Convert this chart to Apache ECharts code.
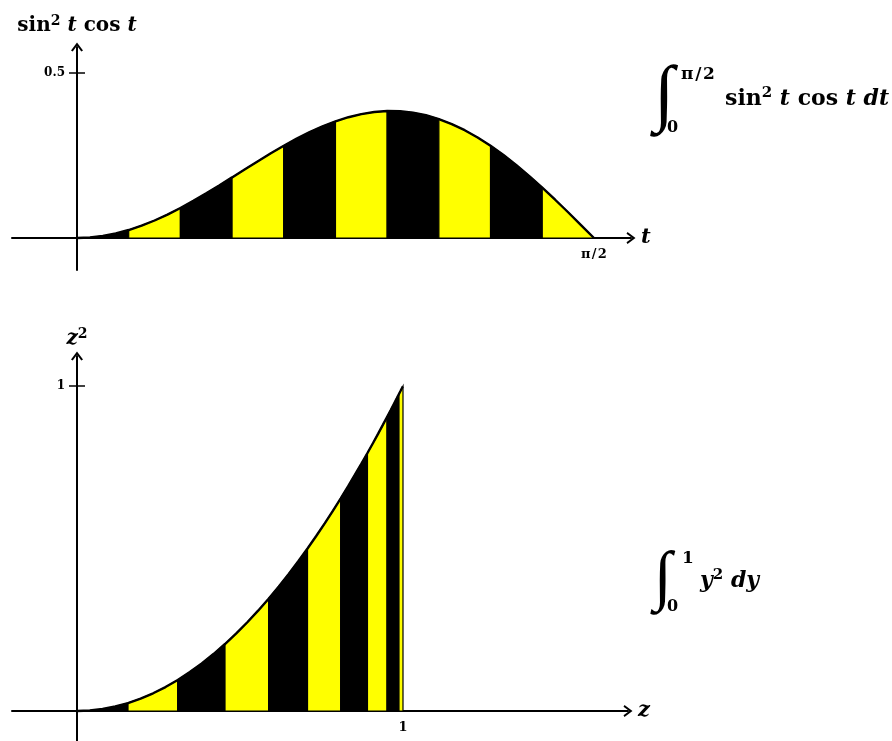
<!DOCTYPE html>
<html>
<head>
<meta charset="utf-8">
<script src="https://cdn.jsdelivr.net/npm/echarts@6/dist/echarts.min.js"></script>
<style>
  html, body { margin: 0; padding: 0; background: #ffffff; }
  #chart { width: 892px; height: 741px; }
</style>
</head>
<body>
<div id="chart"></div>
<script>
// Upper panel: f(t) = sin^2 t cos t sampled on [0, pi/2]
const tSamples = [
  0, 0.0393, 0.0785, 0.1178, 0.1571, 0.1963, 0.2356, 0.2749, 0.3142, 0.3534,
  0.3927, 0.4320, 0.4712, 0.5105, 0.5498, 0.5890, 0.6283, 0.6676, 0.7069, 0.7461,
  0.7854, 0.8247, 0.8639, 0.9032, 0.9425, 0.9817, 1.0210, 1.0603, 1.0996, 1.1388,
  1.1781, 1.2174, 1.2566, 1.2959, 1.3352, 1.3744, 1.4137, 1.4530, 1.4923, 1.5315,
  1.5708
];
const sinSqCos = [
  0, 0.00154, 0.00614, 0.01372, 0.02417, 0.03733, 0.05299, 0.07091, 0.09082, 0.11239,
  0.13530, 0.15918, 0.18365, 0.20831, 0.23277, 0.25664, 0.27951, 0.30099, 0.32073, 0.33835,
  0.35355, 0.36603, 0.37553, 0.38181, 0.38471, 0.38409, 0.37986, 0.37197, 0.36042, 0.34528,
  0.32664, 0.30466, 0.27951, 0.25144, 0.22073, 0.18766, 0.15260, 0.11592, 0.07798, 0.03920,
  0
];
// Lower panel: g(z) = z^2 sampled on [0, 1]
const zSamples = [
  0, 0.03926, 0.07846, 0.11754, 0.15643, 0.19509, 0.23345, 0.27144, 0.30902, 0.34612,
  0.38268, 0.41866, 0.45399, 0.48862, 0.52250, 0.55557, 0.58779, 0.61909, 0.64945, 0.67880,
  0.70711, 0.73432, 0.76041, 0.78532, 0.80902, 0.83147, 0.85264, 0.87250, 0.89101, 0.90814,
  0.92388, 0.93819, 0.95106, 0.96246, 0.97237, 0.98079, 0.98769, 0.99307, 0.99692, 0.99923,
  1
];
const zSquared = [
  0, 0.00154, 0.00616, 0.01382, 0.02447, 0.03806, 0.05450, 0.07368, 0.09549, 0.11980,
  0.14645, 0.17528, 0.20611, 0.23875, 0.27300, 0.30866, 0.34549, 0.38327, 0.42178, 0.46077,
  0.5, 0.53923, 0.57822, 0.61673, 0.65451, 0.69134, 0.72700, 0.76126, 0.79389, 0.82472,
  0.85355, 0.88020, 0.90451, 0.92633, 0.94550, 0.96194, 0.97553, 0.98619, 0.99384, 0.99846,
  1
];
// Stripe boundaries: equal steps in t above, their images z = sin t below
const tStripeEdges = [0, 0.1571, 0.3142, 0.4712, 0.6283, 0.7854, 0.9425, 1.0996, 1.2566, 1.4137, 1.5708];
const zStripeEdges = [0, 0.15643, 0.30902, 0.45399, 0.58779, 0.70711, 0.80902, 0.89101, 0.95106, 0.98769, 1];
const stripeColors = ['#000000', '#ffff00'];

// Tick values and their labels
const topXTickValues = [1.5708];
const topXTickLabels = ['π\u200A/\u200A2'];
const topYTickValues = [0.5];
const topYTickLabels = ['0.5'];
const bottomXTickValues = [1];
const bottomXTickLabels = ['1'];
const bottomYTickValues = [1];
const bottomYTickLabels = ['1'];

const SERIF = '"DejaVu Serif", "Liberation Serif", serif';
const ARROW = 'path://M0,8 L6,0 L12,8 L10.3,9 L6,3.2 L1.7,9 Z';

function pairs(xs, ys) {
  return xs.map((x, i) => [x, ys[i]]);
}

function labelFor(values, labels) {
  return function (v) {
    for (let i = 0; i < values.length; i++) {
      if (Math.abs(values[i] - v) < 1e-6) return labels[i];
    }
    return '';
  };
}

// Horizontal axis drawn at y = 0 (shifted up into the grid by `offset` px)
function axisX(gridIndex, min, max, offset, name, tickValues, tickLabels) {
  return {
    type: 'value', gridIndex, min, max, position: 'bottom', offset,
    name, nameLocation: 'end', nameGap: 10,
    nameTextStyle: { fontFamily: SERIF, fontStyle: 'italic', fontWeight: 'bold', fontSize: 21, color: '#000' },
    axisLine: { show: true, onZero: false, symbol: ['none', ARROW], symbolSize: [13, 9],
      lineStyle: { color: '#000', width: 2 } },
    axisTick: { show: false },
    splitLine: { show: false },
    axisLabel: { show: true, customValues: tickValues, formatter: labelFor(tickValues, tickLabels),
      margin: 10, fontFamily: SERIF, fontWeight: 'bold', fontSize: 13, color: '#000' }
  };
}

// Vertical axis drawn at x = 0
function axisY(gridIndex, min, max, offset, name, nameGap, tickValues, tickLabels) {
  return {
    type: 'value', gridIndex, min, max, position: 'left', offset,
    name, nameLocation: 'end', nameGap,
    nameTextStyle: {
      fontFamily: SERIF, fontWeight: 'bold', fontSize: 20, color: '#000',
      rich: {
        r: { fontFamily: SERIF, fontWeight: 'bold', fontSize: 20, color: '#000' },
        i: { fontFamily: SERIF, fontWeight: 'bold', fontStyle: 'italic', fontSize: 20, color: '#000' },
        sup: { fontFamily: SERIF, fontWeight: 'bold', fontSize: 14, color: '#000', verticalAlign: 'bottom', padding: [0, 0, 10, 0] }
      }
    },
    axisLine: { show: true, onZero: false, symbol: ['none', ARROW], symbolSize: [13, 9],
      lineStyle: { color: '#000', width: 2 } },
    axisTick: { show: false },
    splitLine: { show: false },
    axisLabel: { show: true, customValues: tickValues, formatter: labelFor(tickValues, tickLabels),
      margin: 12, fontFamily: SERIF, fontWeight: 'bold', fontSize: 12, color: '#000' }
  };
}

// Filled stripes under a sampled curve, alternating black / yellow
function stripeSeries(idx, xs, ys, edges) {
  return {
    type: 'custom', xAxisIndex: idx, yAxisIndex: idx, z: 2, silent: true,
    data: edges.slice(0, -1).map((e, i) => [e, edges[i + 1], i]),
    renderItem: function (params, api) {
      const x0 = api.value(0), x1 = api.value(1), k = api.value(2);
      const pts = [api.coord([x0, 0])];
      xs.forEach((x, j) => {
        if (x >= x0 - 1e-6 && x <= x1 + 1e-6) pts.push(api.coord([x, ys[j]]));
      });
      pts.push(api.coord([x1, 0]));
      return {
        type: 'polygon', shape: { points: pts },
        style: { fill: stripeColors[k % 2], stroke: '#000', lineWidth: 1.2 }
      };
    }
  };
}

function curveSeries(idx, xs, ys) {
  return {
    type: 'line', xAxisIndex: idx, yAxisIndex: idx, z: 3, silent: true,
    data: pairs(xs, ys), showSymbol: false, smooth: false,
    lineStyle: { color: '#000', width: 2.4 }
  };
}

// Short tick marks crossing the vertical axis
function crossTicks(idx, values) {
  return {
    type: 'custom', xAxisIndex: idx, yAxisIndex: idx, z: 4, silent: true,
    data: values.map(v => [0, v]),
    renderItem: function (params, api) {
      const p = api.coord([api.value(0), api.value(1)]);
      return {
        type: 'line', shape: { x1: p[0] - 8, y1: p[1], x2: p[0] + 8, y2: p[1] },
        style: { stroke: '#000', lineWidth: 1.5 }
      };
    }
  };
}

const mathRich = {
  r: { fontFamily: SERIF, fontWeight: 'bold', fontSize: 22, fill: '#000' },
  i: { fontFamily: SERIF, fontWeight: 'bold', fontStyle: 'italic', fontSize: 22, fill: '#000' },
  sup: { fontFamily: SERIF, fontWeight: 'bold', fontSize: 15, fill: '#000', verticalAlign: 'bottom', padding: [0, 0, 12, 0] }
};

// Integral sign with limits and integrand
function integralGraphic(x, y, size, upper, upperDx, lower, bodyDx, body) {
  return [
    { type: 'text', x: x, y: y, style: { text: '∫', fontFamily: '"Liberation Serif", serif', fontStyle: 'italic', fontSize: size, fill: '#000', verticalAlign: 'middle', align: 'left' } },
    { type: 'text', x: x + upperDx, y: y - size * 0.32, style: { text: upper, fontFamily: SERIF, fontWeight: 'bold', fontSize: 17, fill: '#000', verticalAlign: 'middle', align: 'left' } },
    { type: 'text', x: x + 13, y: y + size * 0.4, style: { text: lower, fontFamily: SERIF, fontWeight: 'bold', fontSize: 16, fill: '#000', verticalAlign: 'middle', align: 'left' } },
    { type: 'text', x: x + bodyDx, y: y + 1, style: { rich: mathRich, text: body, verticalAlign: 'middle', align: 'left' } }
  ];
}

const chart = echarts.init(document.getElementById('chart'), null, { renderer: 'canvas' });
chart.setOption({
  backgroundColor: '#ffffff',
  animation: false,
  grid: [
    { left: 12, top: 47, width: 619, height: 223, containLabel: false, outerBoundsMode: 'none' },
    { left: 12, top: 356, width: 616, height: 385, containLabel: false, outerBoundsMode: 'none' }
  ],
  xAxis: [
    axisX(0, -0.1975, 1.6834, -32, 't', topXTickValues, topXTickLabels),
    axisX(1, -0.1994, 1.6902, -30, 'z', bottomXTickValues, bottomXTickLabels)
  ],
  yAxis: [
    axisY(0, -0.097, 0.5788, -65, '{r|sin}{sup|2}{i| t }{r|cos}{i| t}', 9, topYTickValues, topYTickLabels),
    axisY(1, -0.0923, 1.0923, -65, '{i|z}{sup|2}', 5, bottomYTickValues, bottomYTickLabels)
  ],
  series: [
    stripeSeries(0, tSamples, sinSqCos, tStripeEdges),
    curveSeries(0, tSamples, sinSqCos),
    crossTicks(0, topYTickValues),
    stripeSeries(1, zSamples, zSquared, zStripeEdges),
    curveSeries(1, zSamples, zSquared),
    crossTicks(1, bottomYTickValues)
  ],
  graphic: [].concat(
    integralGraphic(654, 98, 74, 'π\u200A/\u200A2', 27, '0', 71, '{r|sin}{sup|2}{i| t }{r|cos}{i| t dt}'),
    integralGraphic(654, 580, 66, '1', 28, '0', 46, '{i|y}{sup|2}{i| dy}')
  )
});
</script>
</body>
</html>
